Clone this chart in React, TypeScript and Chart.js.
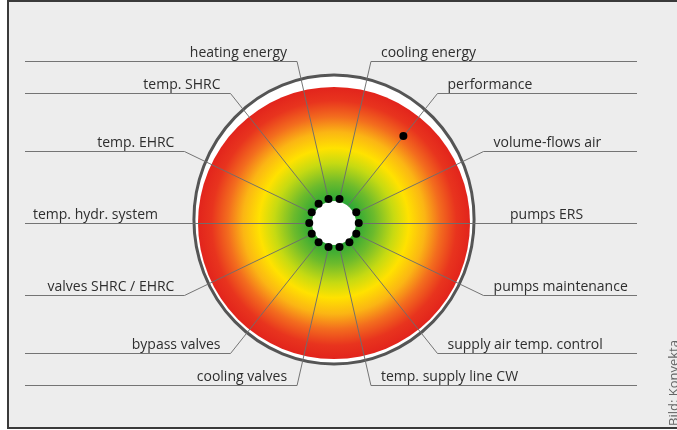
import React, { useEffect, useRef } from "react";
import { Chart, registerables } from "chart.js";

Chart.register(...registerables);

// Axes, clockwise starting just left of top
const categories = [
  "heating energy",
  "cooling energy",
  "performance",
  "volume-flows air",
  "pumps ERS",
  "pumps maintenance",
  "supply air temp. control",
  "temp. supply line CW",
  "cooling valves",
  "bypass valves",
  "valves SHRC / EHRC",
  "temp. hydr. system",
  "temp. EHRC",
  "temp. SHRC",
];
const values = [0, 0, 7, 0, 0, 0, 0, 0, 0, 0, 0, 0, 0, 0];
const scaleMin = -2;
const scaleMax = 9;
const creditText = "Bild: Konvekta";

const W = 677;
const H = 430;

const wheelPlugin = {
  id: "wheel",
  beforeDatasetsDraw(chart: any) {
    const ctx = chart.ctx;
    const s = chart.scales.r;
    const cx = s.xCenter;
    const cy = s.yCenter;
    const R = s.drawingArea;
    ctx.save();

    // outer white band + gray ring
    ctx.beginPath();
    ctx.ellipse(cx, cy - 3.5, R * 1.03, R * 1.062, 0, 0, Math.PI * 2);
    ctx.fillStyle = "#ffffff";
    ctx.fill();
    ctx.lineWidth = 3;
    ctx.strokeStyle = "#555555";
    ctx.stroke();

    // gradient disk
    const g = ctx.createRadialGradient(cx, cy, 0, cx, cy, R);
    g.addColorStop(0, "#2aa337");
    g.addColorStop(0.17, "#2ea836");
    g.addColorStop(0.3, "#6dbb2c");
    g.addColorStop(0.44, "#c6da12");
    g.addColorStop(0.55, "#ffe200");
    g.addColorStop(0.67, "#fbb514");
    g.addColorStop(0.78, "#f36d1e");
    g.addColorStop(0.9, "#e8341e");
    g.addColorStop(1, "#e2241c");
    ctx.beginPath();
    ctx.arc(cx, cy, R, 0, Math.PI * 2);
    ctx.fillStyle = g;
    ctx.fill();

    // spokes with leader lines and labels
    const bendR = R * (166 / 136);
    const leftEnd = cx - 309;
    const rightEnd = cx + 303;
    ctx.lineWidth = 1;
    ctx.strokeStyle = "rgba(110,110,110,0.95)";
    ctx.font = "14px 'Open Sans'";
    ctx.fillStyle = "#2e2e2e";
    ctx.textBaseline = "alphabetic";
    categories.forEach((label, i) => {
      const p = s.getPointPosition(i, bendR);
      const left = p.x < cx;
      const by = Math.round(p.y) + 0.5;
      ctx.beginPath();
      ctx.moveTo(cx, cy + 0.5);
      ctx.lineTo(p.x, by);
      ctx.lineTo(left ? leftEnd : rightEnd, by);
      ctx.stroke();
      if (left) {
        ctx.textAlign = "right";
        ctx.fillText(label, p.x - 10, by - 4.5);
      } else {
        ctx.textAlign = "left";
        ctx.fillText(label, p.x + 10, by - 4.5);
      }
    });

    // white hub
    ctx.beginPath();
    ctx.arc(cx, cy, R * (22 / 136), 0, Math.PI * 2);
    ctx.fillStyle = "#ffffff";
    ctx.fill();

    ctx.restore();
  },
  afterDraw(chart: any) {
    const ctx = chart.ctx;
    ctx.save();
    ctx.translate(668, 426);
    ctx.rotate(-Math.PI / 2);
    ctx.font = "13px 'Open Sans'";
    ctx.fillStyle = "#666666";
    ctx.textAlign = "left";
    ctx.textBaseline = "top";
    ctx.fillText(creditText, 0, 0);
    ctx.restore();
  },
};

export default function App() {
  const ref = useRef<HTMLCanvasElement>(null);
  useEffect(() => {
    if (!ref.current) return;
    const chart = new Chart(ref.current, {
      type: "radar",
      data: {
        labels: categories,
        datasets: [
          {
            data: values,
            showLine: false,
            borderWidth: 0,
            backgroundColor: "transparent",
            pointRadius: 4,
            pointBackgroundColor: "#000000",
            pointBorderWidth: 0,
          },
        ],
      },
      options: {
        responsive: false,
        animation: false,
        layout: { padding: { left: 0, right: 9, top: 87, bottom: 71 } },
        plugins: { legend: { display: false }, tooltip: { enabled: false } },
        scales: {
          r: {
            min: scaleMin,
            max: scaleMax,
            startAngle: -360 / 28,
            grid: { display: false },
            angleLines: { display: false },
            pointLabels: { display: false },
            ticks: { display: false },
          },
        },
      },
      plugins: [wheelPlugin],
    });
    return () => chart.destroy();
  }, []);

  return (
    <div
      style={{
        position: "fixed",
        left: 0,
        top: 0,
        width: W,
        height: H,
        overflow: "hidden",
        background: "#ffffff",
      }}
    >
      <div
        style={{
          position: "absolute",
          left: 7,
          top: 0,
          width: 700,
          height: 429,
          boxSizing: "border-box",
          border: "2px solid #3a3a3a",
          background: "#ededed",
        }}
      />
      <canvas
        ref={ref}
        width={W}
        height={H}
        style={{ position: "absolute", left: 0, top: 0, width: W, height: H }}
      />
    </div>
  );
}
